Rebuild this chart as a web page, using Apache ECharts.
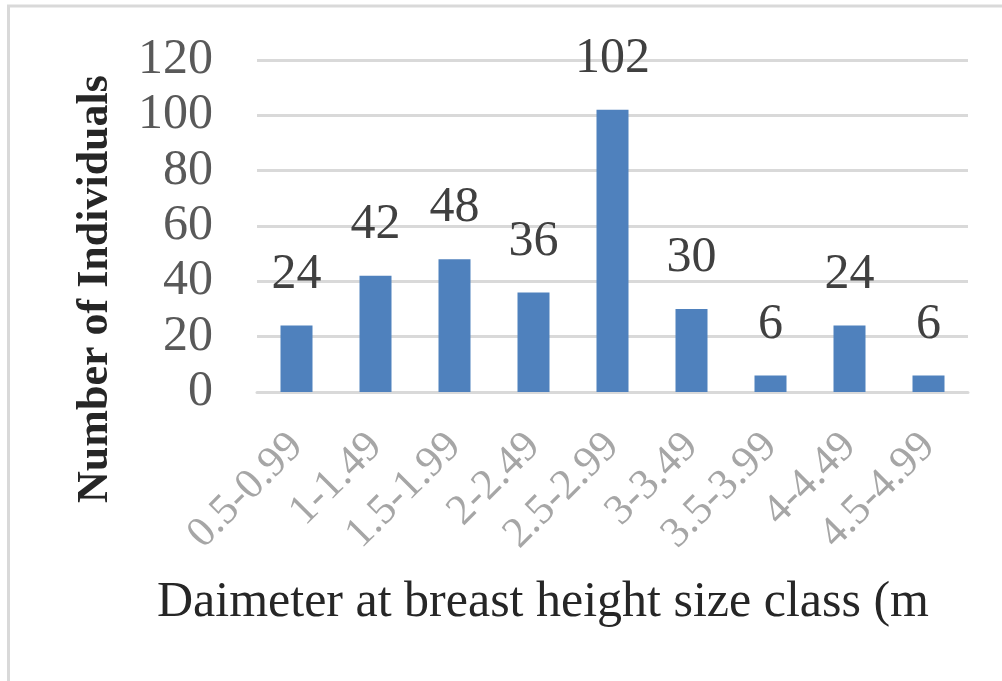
<!DOCTYPE html>
<html>
<head>
<meta charset="utf-8">
<script src="https://cdn.jsdelivr.net/npm/echarts@6/dist/echarts.min.js"></script>
<style>
html, body { margin: 0; padding: 0; background: #fff; }
#dbhChart { width: 1002px; height: 681px; }
</style>
</head>
<body>
<div id="dbhChart"></div>
<script>
var sizeClasses = ['0.5-0.99', '1-1.49', '1.5-1.99', '2-2.49', '2.5-2.99', '3-3.49', '3.5-3.99', '4-4.49', '4.5-4.99'];
var individuals = [24, 42, 48, 36, 102, 30, 6, 24, 6];
var yTicks = { min: 0, max: 120, interval: 20 };

var serif = '"Liberation Serif", "Times New Roman", serif';
var dbhChart;

//柱状图 option
function dbhOption(xAxisData, seriesData) {
    return {
        animation: false,
        grid: {
            left: 257,
            right: 34,
            top: 60,
            bottom: 289
        },
        xAxis: {
            type: 'category',
            data: xAxisData,
            axisTick: { show: false },
            axisLine: { lineStyle: { color: '#d9d9d9', width: 3 } },
            axisLabel: {
                interval: 0,
                rotate: 45,
                margin: 48,
                color: '#a6a6a6',
                fontFamily: serif,
                fontSize: 43
            }
        },
        yAxis: {
            type: 'value',
            min: yTicks.min,
            max: yTicks.max,
            interval: yTicks.interval,
            axisLine: { show: false },
            axisTick: { show: false },
            axisLabel: {
                margin: 44,
                color: '#595959',
                fontFamily: serif,
                fontSize: 50
            },
            splitLine: { lineStyle: { color: '#d9d9d9', width: 3 } }
        },
        series: [{
            type: 'bar',
            barWidth: 32,
            itemStyle: { color: '#4f81bd' },
            label: {
                show: true,
                position: 'top',
                distance: 26,
                color: '#404040',
                fontFamily: serif,
                fontSize: 50
            },
            data: seriesData
        }],
        graphic: [
            {
                type: 'polyline',
                shape: { points: [[8.5, 681], [8.5, 6], [1002, 6]] },
                style: { stroke: '#d9d9d9', lineWidth: 3, fill: null }
            },
            {
                type: 'text',
                x: 96,
                y: 289,
                rotation: Math.PI / 2,
                style: {
                    text: 'Number of Individuals',
                    fontFamily: serif,
                    fontSize: 44,
                    fontWeight: 'bold',
                    fill: '#262626',
                    textAlign: 'center',
                    textVerticalAlign: 'middle'
                }
            },
            {
                type: 'text',
                x: 157,
                y: 603,
                style: {
                    text: 'Daimeter at breast height size class (m',
                    fontFamily: serif,
                    fontSize: 50,
                    fill: '#262626',
                    textAlign: 'left',
                    textVerticalAlign: 'middle'
                }
            }
        ]
    };
}

dbhChart = echarts.init(document.getElementById('dbhChart'));
dbhChart.setOption(dbhOption(sizeClasses, individuals));
</script>
</body>
</html>
